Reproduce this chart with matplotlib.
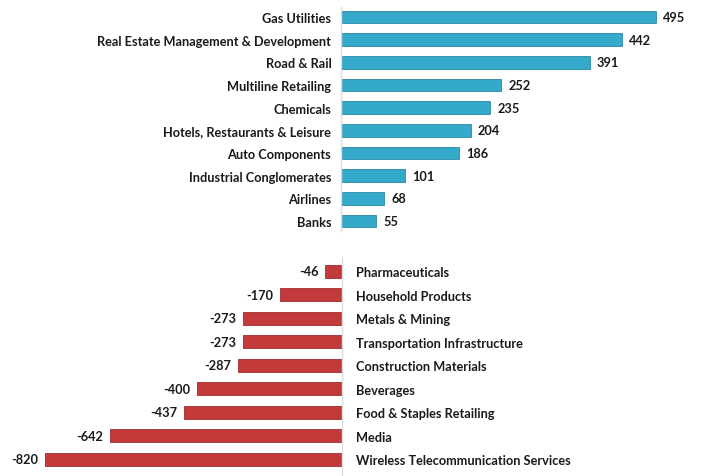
import matplotlib.pyplot as plt

plt.rcParams['font.family'] = ['Lato', 'DejaVu Sans']

# positive contributors
pos_names = ["Gas Utilities", "Real Estate Management & Development", "Road & Rail",
             "Multiline Retailing", "Chemicals", "Hotels, Restaurants & Leisure",
             "Auto Components", "Industrial Conglomerates", "Airlines", "Banks"]
pos_vals = [495, 442, 391, 252, 235, 204, 186, 101, 68, 55]

# negative contributors
neg_names = ["Pharmaceuticals", "Household Products", "Metals & Mining",
             "Transportation Infrastructure", "Construction Materials", "Beverages",
             "Food & Staples Retailing", "Media", "Wireless Telecommunication Services"]
neg_vals = [-46, -170, -273, -273, -287, -400, -437, -642, -820]

blue = "#34A9C9"
red = "#C23A3A"
axis_grey = "#DCDCDC"
font_kw = dict(fontsize=9.2, fontweight="bold", color="#1a1a1a")

fig = plt.figure(figsize=(7.01, 4.77), dpi=100)

# top panel
ax1 = fig.add_axes([341 / 701, 1 - 232 / 477, 360 / 701, 224 / 477])
y1 = list(range(len(pos_vals)))
bars1 = ax1.barh(y1, pos_vals, height=0.57, color=blue, edgecolor="#2a8aa6", linewidth=0.6)
ax1.set_xlim(0, 566)
ax1.set_ylim(9.44, -0.44)
ax1.set_yticks(y1)
ax1.set_yticklabels(pos_names, **font_kw)
ax1.tick_params(axis="y", length=0, pad=7)
ax1.set_xticks([])
for s in ["top", "right", "bottom"]:
    ax1.spines[s].set_visible(False)
ax1.spines["left"].set_color(axis_grey)
ax1.spines["left"].set_linewidth(1)
ax1.bar_label(bars1, labels=[str(v) for v in pos_vals], padding=5, **font_kw)

# bottom panel
ax2 = fig.add_axes([0, 0, 342 / 701, 219 / 477])
y2 = list(range(len(neg_vals)))
bars2 = ax2.barh(y2, neg_vals, height=0.55, color=red, edgecolor="#a02c2c", linewidth=0.6)
ax2.set_xlim(-945, 0)
ax2.set_ylim(8.72, -0.6)
ax2.yaxis.tick_right()
ax2.set_yticks(y2)
ax2.set_yticklabels(neg_names, **font_kw)
ax2.tick_params(axis="y", length=0, pad=10)
ax2.set_xticks([])
for s in ["top", "left", "bottom"]:
    ax2.spines[s].set_visible(False)
ax2.spines["right"].set_color(axis_grey)
ax2.spines["right"].set_linewidth(1)
ax2.bar_label(bars2, labels=[str(v) for v in neg_vals], padding=5, **font_kw)

fig.savefig("out.png", dpi=100)
